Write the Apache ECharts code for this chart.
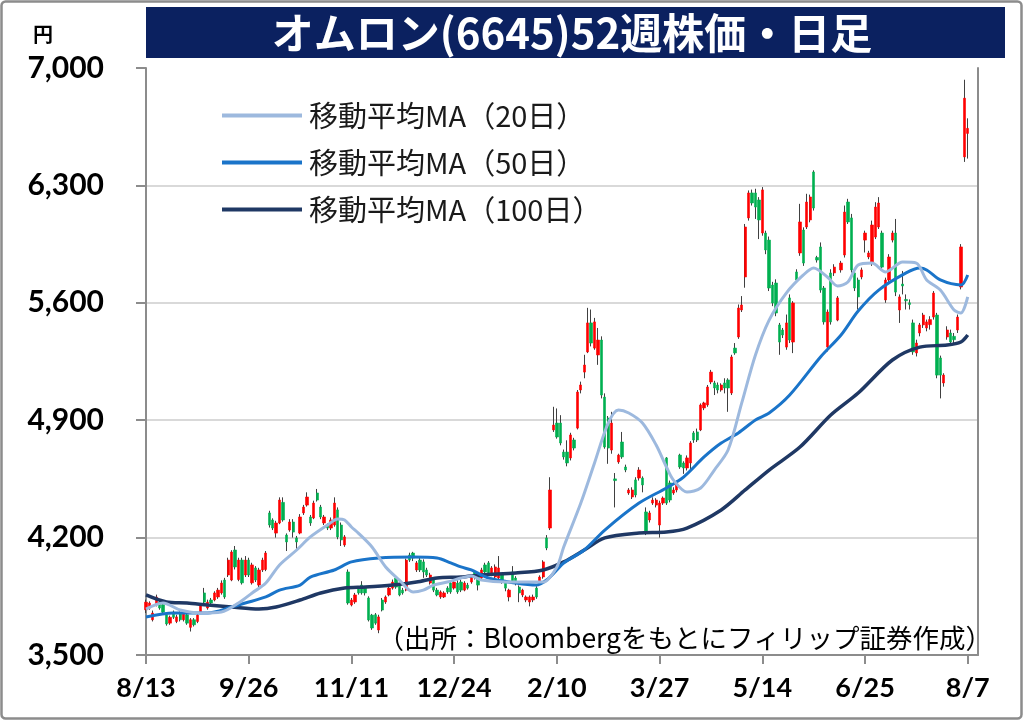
<!DOCTYPE html>
<html>
<head>
<meta charset="utf-8">
<script src="https://cdn.jsdelivr.net/npm/echarts@6/dist/echarts.min.js"></script>
<style>
html,body{margin:0;padding:0;background:#fff;}
#c{width:1024px;height:721px;}
</style>
</head>
<body>
<div id="c"></div>
<script>
// ---- tick labels shown on the x axis ----
const tickDates = ['8/13','9/26','11/11','12/24','2/10','3/27','5/14','6/25','8/7'];
// ---- Tokyo market holidays (weekdays) in the period ----
const holidays = ['2025-09-15','2025-09-23','2025-10-13','2025-11-03','2025-11-24','2025-12-31',
  '2026-01-01','2026-01-02','2026-01-12','2026-02-11','2026-02-23','2026-03-20','2026-04-29',
  '2026-05-04','2026-05-05','2026-05-06','2026-07-20'];
// ---- daily candles [open, close, low, high] ----
const candlesAugNov = [
[3770,3815,3750,3830],[3780,3810,3770,3820],[3710,3750,3700,3765],[3800,3845,3790,3860],[3815,3780,3770,3830],
[3800,3755,3745,3810],[3740,3685,3675,3750],[3690,3725,3680,3735],[3755,3725,3715,3765],[3700,3727,3690,3740],
[3750,3710,3700,3760],[3710,3750,3700,3760],[3740,3690,3680,3750],[3665,3710,3640,3720],[3710,3680,3670,3720],
[3700,3738,3690,3750],[3755,3800,3745,3810],[3870,3815,3805,3900],[3780,3815,3770,3830],[3828,3810,3800,3840],
[3828,3870,3820,3880],[3846,3887,3835,3900],[3870,3929,3860,3945],[3947,3846,3835,3960],[3977,4066,3965,4080],
[3947,4114,3940,4125],[4126,4025,4010,4150],[3950,4066,3940,4080],[4066,3930,3920,4080],[3977,4066,3965,4090],
[4066,3977,3965,4080],[3930,4037,3920,4050],[4019,3947,3935,4030],[3917,4007,3905,4020],[4007,4066,3995,4080],
[4010,4108,4000,4120],[4347,4275,4260,4360],[4305,4257,4245,4315],[4227,4287,4200,4300],[4287,4424,4280,4440],
[4410,4305,4295,4440],[4215,4174,4120,4225],[4245,4293,4235,4310],[4293,4233,4200,4310],[4198,4174,4130,4210],
[4227,4323,4220,4340],[4347,4382,4335,4395],[4394,4442,4385,4470],[4323,4287,4270,4335],[4317,4406,4310,4420],
[4466,4424,4415,4490],[4382,4323,4310,4395],[4287,4323,4275,4335],[4275,4257,4245,4285],[4257,4305,4245,4320],
[4275,4406,4265,4440],[4365,4204,4190,4380],[4275,4186,4150,4290],[4156,4204,4145,4215],[3995,3810,3800,4010]
];
const candlesNovFeb = [
[3798,3828,3790,3840],[3816,3858,3805,3870],[3899,3870,3860,3910],[3917,3870,3860,3940],[3899,3870,3855,3910],
[3840,3709,3700,3850],[3738,3661,3650,3745],[3740,3690,3680,3750],[3649,3727,3630,3740],[3828,3768,3760,3840],
[3816,3846,3805,3855],[3858,3899,3850,3910],[3899,3935,3890,3950],[3959,3905,3895,3975],[3917,3858,3850,3930],
[3887,3870,3860,3900],[3887,4066,3880,4075],[4096,4066,4055,4110],[4108,4078,4060,4115],[4007,4049,3995,4060],
[4066,4007,3995,4090],[4055,3995,3960,4070],[4007,3977,3965,4020],[3929,3977,3920,3990],[3947,3887,3875,3960],
[3887,3858,3850,3900],[3846,3876,3835,3885],[3846,3870,3840,3880],[3899,3876,3865,3910],[3929,3876,3865,3940],
[3899,3935,3890,3945],[3929,3876,3865,3945],[3935,3887,3875,3950],[3887,3929,3880,3940],[3917,3899,3890,3930],
[3935,3965,3925,3975],[3995,3965,3950,4005],[3965,3917,3885,3975],[3959,4007,3950,4020],[4037,3995,3985,4050],
[4049,3990,3980,4060],[3977,4019,3970,4030],[3965,4025,3955,4040],[3959,4019,3950,4090],[3977,3935,3925,3990],
[3935,3899,3880,3945],[3846,3887,3820,3895],[3995,3935,3925,4030],[3959,3929,3915,3970],[3905,3870,3815,3915],
[3858,3887,3845,3895],[3828,3846,3815,3855],[3816,3846,3790,3855],[3828,3846,3815,3860],[3899,3846,3835,3910],
[3935,3965,3925,3975],[3965,4055,3955,4065],[4198,4138,4125,4215],[4257,4484,4245,4560]
];
const candlesFebMay = [
[4842,4871,4830,4980],[4883,4800,4790,4970],[4883,4764,4750,4930],[4710,4681,4665,4725],[4710,4645,4625,4780],
[4675,4812,4660,4825],[4782,4734,4720,4795],[4853,5068,4845,5080],[5080,5110,5060,5130],[5187,5229,5150,5290],
[5307,5480,5300,5570],[5480,5360,5340,5560],[5330,5486,5320,5510],[5289,5378,5230,5450],[5378,5050,5030,5400],
[5038,4740,4730,5060],[4913,4734,4640,4925],[4722,4883,4700,4950],[4550,4540,4380,4585],[4651,4692,4640,4700],
[4770,4681,4670,4830],[4621,4603,4590,4635],[4466,4484,4455,4495],[4442,4484,4430,4500],[4544,4454,4440,4560],
[4555,4603,4540,4620],[4555,4514,4470,4565],[4353,4233,4215,4380],[4305,4347,4290,4360],[4406,4424,4395,4440],
[4394,4424,4380,4435],[4275,4406,4200,4420],[4406,4436,4395,4445],[4675,4406,4395,4680],[4526,4424,4410,4540],
[4466,4484,4455,4500],[4484,4526,4470,4540],[4692,4621,4610,4700],[4645,4615,4580,4655],[4615,4675,4600,4690],
[4645,4764,4600,4775],[4824,4782,4765,4835],[4830,4782,4770,4850],[4842,4991,4835,5000],[4973,5003,4960,5010],
[4991,5098,4980,5110],[5128,5187,5115,5200],[5122,5092,5050,5135],[5110,5080,5060,5125],[5080,5110,5070,5120],
[5122,5092,5060,5150],[5140,5092,4950,5150],[5062,5277,5050,5290],[5330,5301,5290,5360],[5396,5569,5385,5590],
[5557,5587,5545,5640],[5754,6052,5690,6070],[6106,6255,6090,6270],[6255,6195,6180,6275],[6255,6171,6100,6280],
[6213,6094,5980,6230],[6016,6273,6000,6290]
];
const candlesMayAug = [
[6016,5915,5890,6030],[5974,5688,5670,5995],[5706,5599,5580,5725],[5718,5539,5520,5740],[5468,5366,5290,5480],
[5438,5408,5390,5450],[5336,5480,5320,5530],[5629,5378,5360,5650],[5366,5599,5300,5610],[5784,5736,5720,5800],
[5897,6082,5880,6190],[6034,5837,5820,6050],[6052,6201,6040,6250],[6094,6231,6080,6245],[6380,6165,6150,6390],
[5870,5855,5840,5880],[5933,5676,5660,5960],[5688,5486,5470,5700],[5336,5545,5310,5560],[5778,5486,5470,5800],
[5778,5813,5760,5830],[5497,5629,5490,5640],[5796,5837,5780,5850],[5885,6141,5870,6180],[6201,6082,6070,6220],
[6106,5796,5780,6130],[5778,5688,5670,5790],[5736,5635,5560,5750],[5754,5796,5740,5810],[5974,6016,5900,6030],
[5873,5897,5860,5910],[5837,6064,5820,6090],[5992,6171,5980,6200],[6052,6195,6040,6230],[6016,5813,5790,6030],
[5617,5736,5600,5750],[5736,5873,5720,5890],[5974,6016,5960,6030],[6016,5664,5640,6100],[5557,5635,5480,5650],
[5712,5700,5650,5790],[5620,5612,5560,5650],[5600,5590,5560,5620],[5480,5307,5290,5500],[5301,5360,5280,5380],
[5420,5468,5400,5480],[5468,5527,5450,5540],[5450,5486,5430,5500],[5470,5500,5440,5520],[5515,5658,5500,5670],
[5527,5169,5150,5540],[5271,5169,5030,5285],[5122,5169,5100,5180],[5396,5438,5380,5460],[5420,5366,5350,5440],
[5400,5380,5360,5420],[5438,5515,5420,5530],[5694,5933,5680,5950],[6470,6820,6440,6930],[6610,6640,6460,6700]
];
// ---- moving averages (day index, value) ----
const ma20Idx = [0,5,10,16,22,27,31,35,39,44,48,53,56,58,60,62,66,70,74,78,81,84,88,92,95,98,105,112,116,120,122,127,131,135,138,141,145,149,152,154,158,162,166,170,174,178,182,187,192,195,199,202,205,208,212,216,221,225,228,232,236,238,240];
const ma20Val = [3774,3810,3768,3750,3756,3810,3870,3929,4037,4126,4204,4275,4311,4305,4263,4227,4144,4025,3947,3876,3887,3917,3935,3959,3971,3947,3935,3935,3935,4025,4144,4406,4645,4883,4961,4943,4883,4752,4621,4544,4472,4496,4603,4722,5003,5289,5497,5658,5766,5807,5754,5700,5724,5825,5837,5784,5843,5837,5736,5676,5557,5539,5635];
const ma50Idx = [0,8,18,25,29,35,39,45,48,55,60,68,78,85,89,92,95,100,108,114,117,120,122,128,134,144,152,157,163,168,173,178,182,188,197,203,208,214,222,226,228,232,238,240];
const ma50Val = [3727,3750,3750,3786,3810,3846,3887,3917,3965,4007,4055,4078,4084,4078,4049,4025,4007,3959,3929,3917,3947,4007,4049,4126,4245,4406,4496,4561,4681,4764,4824,4901,4943,5050,5277,5408,5551,5676,5778,5807,5796,5736,5706,5766];
const ma100Idx = [0,6,12,18,25,33,38,45,51,58,64,72,79,85,92,98,108,116,122,128,134,144,152,158,168,175,182,191,200,208,218,226,234,238,240];
const ma100Val = [3858,3816,3810,3798,3786,3774,3786,3828,3870,3899,3905,3917,3935,3959,3965,3977,3989,4007,4055,4126,4198,4227,4233,4257,4365,4484,4603,4740,4931,5062,5259,5336,5348,5366,5408];

// ---- build trading-day categories ----
function buildDays(startY, startM, startD, endY, endM, endD) {
  const out = [];
  let t = Date.UTC(startY, startM - 1, startD);
  const end = Date.UTC(endY, endM - 1, endD);
  while (t <= end) {
    const d = new Date(t);
    const wd = d.getUTCDay();
    const iso = d.toISOString().slice(0, 10);
    if (wd !== 0 && wd !== 6 && holidays.indexOf(iso) < 0) {
      out.push((d.getUTCMonth() + 1) + '/' + d.getUTCDate());
    }
    t += 86400000;
  }
  return out;
}
const days = buildDays(2025, 8, 13, 2026, 8, 7);
const categories = days.concat(['', '', '']);
const ohlc = candlesAugNov.concat(candlesNovFeb, candlesFebMay, candlesMayAug);
const bodies = ohlc.map(d => [d[0], d[1], Math.min(d[0], d[1]), Math.max(d[0], d[1])]);
function sparse(idx, val) {
  const arr = new Array(days.length).fill(null);
  idx.forEach((k, j) => { arr[k] = val[j]; });
  return arr;
}
const isTick = (index, value) => tickDates.indexOf(value) >= 0;

const chart = echarts.init(document.getElementById('c'), null, {renderer: 'canvas'});
const numFont = 'Lato, "Noto Sans", sans-serif';
const jpFont = '"Noto Sans CJK JP", "Noto Sans", sans-serif';
const axisGray = '#8C8C8C';

chart.setOption({
  animation: false,
  backgroundColor: '#ffffff',
  grid: {left: 146, right: 46, top: 68, bottom: 66, containLabel: false},
  legend: {
    data: ['移動平均MA（20日）', '移動平均MA（50日）', '移動平均MA（100日）'],
    orient: 'vertical', left: 217, top: 95, itemWidth: 80, itemHeight: 4, itemGap: 16,
    icon: 'rect', selectedMode: false,
    textStyle: {fontFamily: jpFont, fontSize: 29, color: '#1a1a1a', lineHeight: 31, padding: [0, 0, 0, 2]}
  },
  xAxis: {
    type: 'category', data: categories, boundaryGap: false,
    axisLine: {show: true, lineStyle: {color: axisGray, width: 2}},
    axisTick: {show: true, interval: isTick, length: 9, lineStyle: {color: axisGray, width: 2}},
    axisLabel: {interval: isTick, fontFamily: numFont, fontWeight: 'bold', fontSize: 27, color: '#000', margin: 20},
    splitLine: {show: false}
  },
  yAxis: [{
    type: 'value', min: 3500, max: 7000, interval: 700,
    axisLine: {show: true, lineStyle: {color: axisGray, width: 2}},
    axisTick: {show: true, length: 10, lineStyle: {color: axisGray, width: 2}},
    axisLabel: {fontFamily: numFont, fontWeight: 'bold', fontSize: 30, color: '#000', margin: 42,
      formatter: v => v.toLocaleString('en-US')},
    splitLine: {show: true, lineStyle: {color: ['#D9D9D9', '#D9D9D9', '#D9D9D9', '#D9D9D9', '#D9D9D9', 'rgba(0,0,0,0)'], width: 2}}
  }, {
    type: 'value', min: 3500, max: 7000, interval: 700, position: 'right',
    axisLine: {show: true, lineStyle: {color: axisGray, width: 2}},
    axisTick: {show: false}, axisLabel: {show: false}, splitLine: {show: false}
  }],
  series: [
    {
      name: 'wick', type: 'candlestick', data: ohlc, barWidth: 1, silent: true,
      itemStyle: {color: '#404040', color0: '#404040', borderColor: '#404040', borderColor0: '#404040', borderWidth: 1},
      z: 2
    },
    {
      name: 'body', type: 'candlestick', data: bodies, barWidth: 2.8, silent: true,
      itemStyle: {color: '#FF0000', color0: '#00B050', borderColor: '#FF0000', borderColor0: '#00B050', borderWidth: 0.6},
      z: 3
    },
    {
      name: '移動平均MA（100日）', type: 'line', data: sparse(ma100Idx, ma100Val), connectNulls: true,
      showSymbol: false, smooth: 0.3, silent: true,
      lineStyle: {color: '#1F3864', width: 3.5}, itemStyle: {color: '#1F3864'}, z: 4
    },
    {
      name: '移動平均MA（50日）', type: 'line', data: sparse(ma50Idx, ma50Val), connectNulls: true,
      showSymbol: false, smooth: 0.3, silent: true,
      lineStyle: {color: '#1A74C9', width: 3}, itemStyle: {color: '#1A74C9'}, z: 5
    },
    {
      name: '移動平均MA（20日）', type: 'line', data: sparse(ma20Idx, ma20Val), connectNulls: true,
      showSymbol: false, smooth: 0.3, silent: true,
      lineStyle: {color: '#9DB9DE', width: 3}, itemStyle: {color: '#9DB9DE'}, z: 6
    }
  ],
  graphic: [
    {type: 'rect', silent: true, z: 0, shape: {x: 1.5, y: 1.5, width: 1020, height: 717, r: 4},
      style: {fill: 'none', stroke: '#8C8C8C', lineWidth: 2.5}},
    {type: 'rect', silent: true, z: 10, shape: {x: 146, y: 7, width: 859, height: 51},
      style: {fill: '#0B2160'}},
    {type: 'text', silent: true, z: 11, style: {x: 572, y: 33, text: 'オムロン(6645)52週株価・日足',
      textAlign: 'center', textVerticalAlign: 'middle', font: 'bold 42px ' + jpFont, fill: '#ffffff'}},
    {type: 'text', silent: true, z: 11, style: {x: 43, y: 34, text: '円',
      textAlign: 'center', textVerticalAlign: 'middle', font: 'bold 20px ' + jpFont, fill: '#000'}},
    {type: 'text', silent: true, z: 11, style: {x: 992, y: 638, text: '（出所：Bloombergをもとにフィリップ証券作成）',
      textAlign: 'right', textVerticalAlign: 'middle', font: '26.5px ' + jpFont, fill: '#000'}}
  ]
});
</script>
</body>
</html>
